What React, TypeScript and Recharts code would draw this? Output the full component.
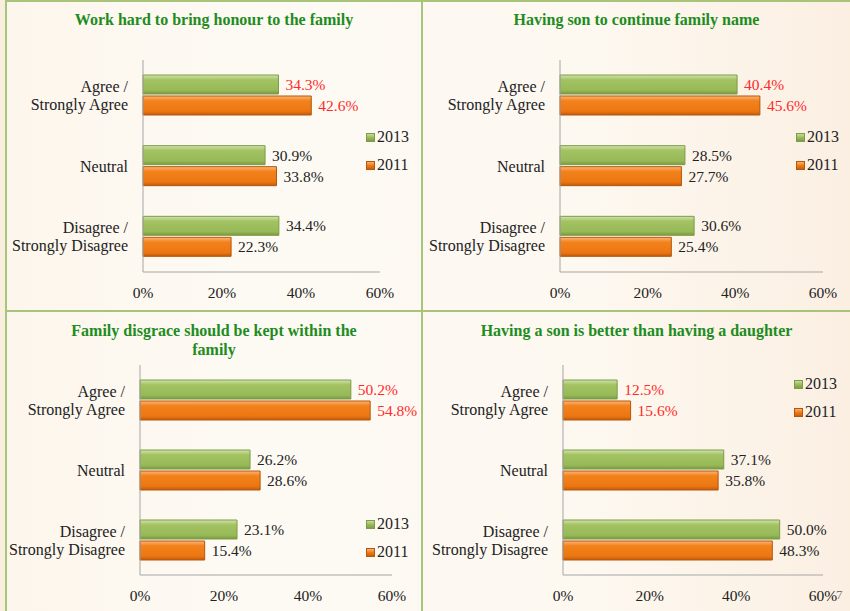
import { Bar, BarChart, LabelList, Legend, XAxis, YAxis } from "recharts";

const categories = ["Agree /\nStrongly Agree", "Neutral", "Disagree /\nStrongly Disagree"];
const years = ["2013", "2011"];
const xTicks = [0, 20, 40, 60];

const titles = [
  "Work hard to bring honour to the family",
  "Having son to continue family name",
  "Family disgrace should be kept within the\nfamily",
  "Having a son is better than having a daughter",
];

const honour2013 = [34.3, 30.9, 34.4];
const honour2011 = [42.6, 33.8, 22.3];
const sonName2013 = [40.4, 28.5, 30.6];
const sonName2011 = [45.6, 27.7, 25.4];
const disgrace2013 = [50.2, 26.2, 23.1];
const disgrace2011 = [54.8, 28.6, 15.4];
const sonBetter2013 = [12.5, 37.1, 50.0];
const sonBetter2011 = [15.6, 35.8, 48.3];

const FONT = '"Liberation Serif", "Times New Roman", serif';
const TEXT = "#222";
const RED = "#ff2b2b";
const AXIS = "#a6a6a6";
const BORDER = "#a8c47a";

// absolute page coords: box = [x, y, w, h], plot = [left, top, right, bottom], legend = [x, y]
const panels = [
  { title: titles[0], a: honour2013, b: honour2011, box: [6, 2, 416, 309], plot: [143, 60, 380, 272], legend: [366, 123] },
  { title: titles[1], a: sonName2013, b: sonName2011, box: [423, 2, 427, 309], plot: [560, 60, 823, 272], legend: [796, 123] },
  { title: titles[2], a: disgrace2013, b: disgrace2011, box: [6, 313, 416, 298], plot: [140, 365, 392, 575], legend: [366, 510] },
  { title: titles[3], a: sonBetter2013, b: sonBetter2011, box: [423, 313, 427, 298], plot: [563, 365, 823, 575], legend: [794, 370] },
];

const CategoryTick = (props: any) => {
  const { x, y, payload } = props;
  const lines = String(payload.value).split("\n");
  const lh = 18;
  const start = y - ((lines.length - 1) * lh) / 2;
  return (
    <text x={x} y={start} textAnchor="end" fill={TEXT} fontSize={16} fontFamily={FONT}>
      {lines.map((l: string, i: number) => (
        <tspan key={i} x={x} y={start + i * lh} dy="0.35em">
          {l}
        </tspan>
      ))}
    </text>
  );
};

const ValueLabel = (props: any) => {
  const { x, y, width, height, value, index } = props;
  return (
    <text
      x={Number(x) + Number(width) + 7}
      y={Number(y) + Number(height) / 2}
      dy="0.35em"
      fill={index === 0 ? RED : TEXT}
      fontSize={15.5}
      fontFamily={FONT}
    >
      {`${Number(value).toFixed(1)}%`}
    </text>
  );
};

const YearLegend = () => (
  <div style={{ fontFamily: FONT, fontSize: 16, color: TEXT }}>
    {years.map((yr, i) => (
      <div key={yr} style={{ display: "flex", alignItems: "center", height: 28 }}>
        <span
          style={{
            display: "inline-block",
            width: 7,
            height: 7,
            marginRight: 2,
            border: `1px solid ${i === 0 ? "#7d9c47" : "#b4570c"}`,
            background:
              i === 0
                ? "linear-gradient(#c6dc9c, #9bbb59 50%, #7f9c45)"
                : "linear-gradient(#f9b070, #ef7b17 50%, #c85f0c)",
          }}
        />
        {yr}
      </div>
    ))}
  </div>
);

const Panel = ({ p, idx }: { p: (typeof panels)[number]; idx: number }) => {
  const [bx, by, w, h] = p.box;
  const [pl, pt, pr, pb] = p.plot;
  const data = categories.map((c, i) => ({ category: c, y2013: p.a[i], y2011: p.b[i] }));
  const xAxisH = 30;
  return (
    <div style={{ position: "absolute", left: bx, top: by, width: w, height: h }}>
      <div
        style={{
          position: "absolute",
          left: 0,
          top: 8,
          width: w,
          textAlign: "center",
          fontFamily: FONT,
          fontWeight: "bold",
          fontSize: 16,
          lineHeight: "19px",
          color: "#1e8c1e",
          whiteSpace: "pre-line",
        }}
      >
        {p.title}
      </div>
      <BarChart
        layout="vertical"
        width={w}
        height={h}
        data={data}
        barSize={19}
        barGap={2}
        margin={{ top: pt - by, right: bx + w - pr, bottom: by + h - pb - xAxisH, left: 0 }}
      >
        <defs>
          <linearGradient id={`g13-${idx}`} x1="0" y1="0" x2="0" y2="1">
            <stop offset="0%" stopColor="#d2e4ae" />
            <stop offset="25%" stopColor="#a3c363" />
            <stop offset="80%" stopColor="#98b957" />
            <stop offset="100%" stopColor="#7a9842" />
          </linearGradient>
          <linearGradient id={`g11-${idx}`} x1="0" y1="0" x2="0" y2="1">
            <stop offset="0%" stopColor="#fbb77a" />
            <stop offset="25%" stopColor="#f3821c" />
            <stop offset="80%" stopColor="#ec7712" />
            <stop offset="100%" stopColor="#c35a0b" />
          </linearGradient>
        </defs>
        <XAxis
          type="number"
          domain={[0, 60]}
          ticks={xTicks}
          interval={0}
          height={xAxisH}
          tickFormatter={(v: number) => `${v}%`}
          axisLine={{ stroke: AXIS }}
          tickLine={false}
          tickSize={0}
          tickMargin={15}
          tick={{ fill: TEXT, fontSize: 15.5, fontFamily: FONT }}
        />
        <YAxis
          type="category"
          dataKey="category"
          width={pl - bx}
          axisLine={{ stroke: AXIS }}
          tickLine={false}
          tickSize={0}
          tickMargin={15}
          tick={<CategoryTick />}
        />
        <Legend
          layout="vertical"
          align="center"
          verticalAlign="middle"
          content={<YearLegend />}
          wrapperStyle={{ left: p.legend[0] - bx, top: p.legend[1] - by, width: 60 }}
        />
        <Bar dataKey="y2013" name="2013" fill={`url(#g13-${idx})`} stroke="#7d9c47" strokeWidth={1} isAnimationActive={false}>
          <LabelList dataKey="y2013" content={<ValueLabel />} />
        </Bar>
        <Bar dataKey="y2011" name="2011" fill={`url(#g11-${idx})`} stroke="#b4570c" strokeWidth={1} isAnimationActive={false}>
          <LabelList dataKey="y2011" content={<ValueLabel />} />
        </Bar>
      </BarChart>
    </div>
  );
};

export default function App() {
  return (
    <div
      style={{
        position: "absolute",
        left: 0,
        top: 0,
        width: 850,
        height: 611,
        overflow: "hidden",
        background: "linear-gradient(90deg, #fdf6ec 0%, #fdfaf4 30%, #fdf8f0 70%, #fbefe2 100%)",
      }}
    >
      <div style={{ position: "absolute", left: 0, top: 0, width: 5, height: 611, background: "#f9efdf" }} />
      <div style={{ position: "absolute", left: 5, top: 0, width: 845, height: 2, background: BORDER }} />
      <div style={{ position: "absolute", left: 5, top: 0, width: 2, height: 611, background: BORDER }} />
      <div style={{ position: "absolute", left: 421, top: 0, width: 2, height: 611, background: BORDER }} />
      <div style={{ position: "absolute", left: 5, top: 310, width: 845, height: 2, background: BORDER }} />
      {panels.map((p, i) => (
        <Panel key={i} p={p} idx={i} />
      ))}
      <div
        style={{ position: "absolute", left: 836, top: 587, fontFamily: FONT, fontSize: 13, color: "#777" }}
      >
        7
      </div>
    </div>
  );
}
